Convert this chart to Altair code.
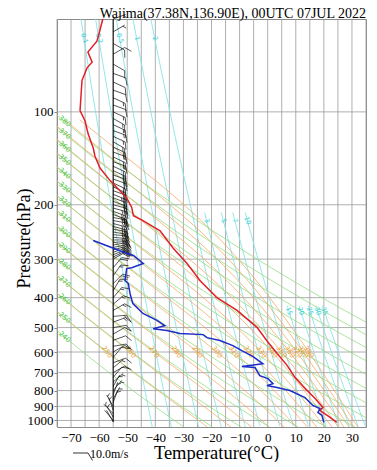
import numpy as np
import pandas as pd
import altair as alt

SERIF = "Liberation Serif"
TITLE = "Wajima(37.38N,136.90E), 00UTC 07JUL 2022"

# ---------------- values ----------------
# temperature profile (hPa, degC)
temp_p = [1015, 978, 928, 907, 847, 787, 725, 663, 606, 558, 499, 440, 400, 352, 310,
          276, 243, 225, 217, 204, 190, 180, 167, 152, 139, 131, 118, 107, 99, 79, 72,
          69, 64, 59, 56, 50]
temp_t = [24.6, 22.2, 18.6, 19.7, 16.8, 13.3, 9.7, 6.9, 3.3, 0.1, -3.8, -10.9, -18.1,
          -24.1, -28.7, -33.7, -38.3, -44.4, -47.8, -48.4, -50.2, -52.6, -56.1, -59.7,
          -61.5, -62.1, -63.9, -65.0, -66.8, -66.1, -64.3, -62.5, -64.0, -60.8, -60.1,
          -58.7]
# dew point profile
dew_p = [1015, 963, 942, 915, 894, 875, 843, 800, 782, 771, 760, 732, 716, 674, 669,
         655, 621, 594, 572, 551, 539, 527, 523, 511, 504, 493, 474, 450, 418, 388,
         360, 352, 322, 320, 310, 292, 282, 261]
dew_t = [20.0, 19.3, 17.9, 18.6, 16.1, 15.0, 13.3, 7.9, 3.3, -0.3, 1.9, 0.1, -2.8,
         -4.5, -9.2, -1.7, -5.2, -9.2, -12.4, -17.0, -21.6, -23.0, -31.2, -35.9, -40.8,
         -36.6, -39.4, -44.4, -48.0, -49.0, -49.6, -50.8, -50.2, -48.4, -44.3, -47.8,
         -52.6, -62.1]
# wind barbs: level (hPa), direction the staff points (deg), speed (m/s)
barb_p = [1010, 1000, 975, 950, 925, 900, 875, 850, 825, 800, 775, 750, 725, 700, 675,
          650, 625, 600, 575, 550, 525, 500, 480, 460, 440, 420, 400, 380, 360, 340,
          320, 300,
          295, 290, 285, 280, 275, 270, 265, 260, 255, 250, 245, 240, 235, 230, 225,
          220, 215, 210, 205, 200, 195, 190, 185, 180, 175, 170, 165, 160, 155, 150,
          145, 140, 135, 130, 125, 120, 115, 110, 105, 100,
          95, 90, 85, 80, 75, 70, 65, 60, 55, 50]
barb_dir = [330, 320, 330, 315, 340, 330, 20, 30, 20, 40, 30, 50, 40, 60, 50, 70, 40,
            60, 80, 70, 60, 80, 70, 85, 60, 50, 40, 30, 45, 35, 40, 60,
            65, 70, 72, 75, 78, 80, 85, 90, 95, 95, 100, 100, 105, 105, 100, 100, 110,
            110, 105, 105, 110, 110, 112, 110, 115, 115, 110, 110, 115, 115,
            110, 115, 110, 115, 120, 115, 110, 115, 120, 115,
            110, 115, 110, 115, 110, 120, 60, 120, 60, 70]
barb_spd = [3, 3, 5, 5, 7, 5, 5, 7, 8, 6, 8, 8, 10, 10, 8, 10, 12, 10, 12, 10, 12, 14,
            15, 15, 16, 18, 16, 18, 20, 18, 20, 22,
            22, 25, 25, 25, 25, 25, 28, 28, 28, 25, 25, 25, 28, 28, 25, 25, 25, 25, 25,
            22, 22, 22, 25, 22, 22, 20, 20, 20, 20, 20,
            18, 20, 18, 20, 18, 15, 18, 15, 15, 15,
            12, 15, 12, 12, 10, 10, 10, 10, 8, 8]
# guide lines
theta_dry = [240, 250, 260, 270, 280, 290, 300, 310, 320, 330, 340, 350, 360, 370, 380]
theta_moist = [250, 260, 270, 280, 290, 300, 310, 320, 330, 340, 350, 360, 370, 380, 390]
mix_top = [0.1, 0.2, 0.5, 1, 2]
mix_mid = [3, 5, 7, 10]
mix_low = [15, 20, 25, 30, 35]
x_ticks = [-70, -60, -50, -40, -30, -20, -10, 0, 10, 20, 30]
isotherms = list(range(-75, 36, 5))
isobars = [100, 200, 300, 400, 500, 600, 700, 800, 900, 1000]

# ---------------- thermodynamics for guide lines ----------------
def es(tc):
    return 6.112 * np.exp(17.67 * tc / (tc + 243.5))

def rsat(tk, p):
    e = es(tk - 273.15)
    return 0.622 * e / (p - e)

def theta_e(tk, p):
    r = rsat(tk, p) * 1000.0
    return tk * (1000.0 / p) ** (0.2854 * (1 - 0.00028 * r)) * np.exp(
        (3.376 / tk - 0.00254) * r * (1 + 0.00081 * r))

def dtdp(tk, p):
    rd, cp, lv = 287.04, 1005.7, 2.501e6
    r = rsat(tk, p)
    return (rd * tk + lv * r) / (p * (cp + lv * lv * r * 0.622 / (rd * tk * tk)))

rows = []
moist_lab = []
for th in theta_moist:
    lo, hi = 180.0, 335.0
    for _ in range(60):
        mid = 0.5 * (lo + hi)
        if theta_e(mid, 1050.0) > th:
            hi = mid
        else:
            lo = mid
    tk, p = mid, 1050.0
    k = 0
    rows.append({"line": th, "i": k, "p": p, "t": tk - 273.15})
    while p > 100.0:
        dp = -2.0
        k1 = dtdp(tk, p)
        k2 = dtdp(tk + dp * k1, p + dp)
        tk += dp * 0.5 * (k1 + k2)
        p += dp
        k += 1
        if k % 4 == 0:
            rows.append({"line": th, "i": k, "p": p, "t": tk - 273.15})
        if abs(p - 600.0) < 1e-6:
            moist_lab.append({"lab": str(th), "p": 600.0, "t": tk - 273.15})
moist_df = pd.DataFrame(rows)
moist_lab_df = pd.DataFrame(moist_lab)

plev = np.arange(50, 1051, 10.0)
dry_df = pd.DataFrame([{"line": th, "i": j, "p": pp, "t": th * (pp / 1000.0) ** 0.2857 - 273.15}
                       for th in theta_dry for j, pp in enumerate(plev)])
dry_lab_df = pd.DataFrame([{"lab": str(th), "t": -72.3,
                            "p": 1000.0 * ((273.15 - 72.3) / th) ** (1 / 0.2857)} for th in theta_dry])

def td_from_w(w, p):
    e = w * p / (622.0 + w)
    a = np.log(e / 6.112)
    return 243.5 * a / (17.67 - a)

mix_rows, mix_lab = [], []
for group, p0, plab in ((mix_top, 50.0, 57.0), (mix_mid, 212.0, 222.0), (mix_low, 425.0, 436.0)):
    for w in group:
        for j, pp in enumerate(np.arange(p0, 1051, 10.0)):
            mix_rows.append({"line": w, "i": j, "p": pp, "t": td_from_w(w, pp)})
        mix_lab.append({"lab": f"{w:g}", "p": plab, "t": td_from_w(w, plab)})
mix_df = pd.DataFrame(mix_rows)
mix_lab_df = pd.DataFrame(mix_lab)

def barb_path(spd):
    parts = ["M0,0L0,-1"]
    n50 = int(spd // 50)
    rem = spd - 50 * n50
    n10 = int(rem // 10)
    rem -= 10 * n10
    n5 = 1 if rem >= 5 else 0
    pos = -1.0
    for _ in range(n50):
        parts.append(f"M0,{pos:.2f}L0.5,{pos - 0.3:.2f}L0,{pos + 0.2:.2f}")
        pos += 0.28
    for _ in range(n10):
        parts.append(f"M0,{pos:.2f}L0.5,{pos - 0.3:.2f}")
        pos += 0.16
    if n5:
        if n10 == 0 and n50 == 0:
            pos += 0.16
        parts.append(f"M0,{pos:.2f}L0.25,{pos - 0.15:.2f}")
    return "".join(parts)

barb_df = pd.DataFrame({"p": barb_p, "dir": barb_dir, "spd": barb_spd,
                        "t": [-55.0] * len(barb_p)})
barb_df["path"] = [barb_path(s) for s in barb_spd]

temp_df = pd.DataFrame({"p": temp_p, "t": temp_t, "i": range(len(temp_p))})
dew_df = pd.DataFrame({"p": dew_p, "t": dew_t, "i": range(len(dew_p))})

# ---------------- chart ----------------
XS = alt.Scale(domain=[-75, 35], nice=False, zero=False)
YS = alt.Scale(type="log", domain=[50, 1050], reverse=True, nice=False)
X_AX = alt.Axis(values=x_ticks, title="Temperature(°C)", grid=False, ticks=False,
                domain=False, labelFont=SERIF, labelFontSize=13, labelColor="black",
                labelPadding=4, titleFont=SERIF, titleFontSize=18.5, titleFontWeight="normal",
                titleColor="black", titleX=159, titleY=31, titleAlign="center",
                titleBaseline="alphabetic")
Y_AX = alt.Axis(values=isobars, format="d", title="Pressure(hPa)", grid=False,
                domain=False, tickSize=3, tickColor="#888", labelFont=SERIF,
                labelFontSize=13, labelColor="black", labelPadding=1,
                titleFont=SERIF, titleFontSize=18, titleFontWeight="normal",
                titleColor="black", titleX=-33, titleY=219, titleAlign="center",
                titleBaseline="middle")

def X(f="t"):
    return alt.X(f"{f}:Q", scale=XS, axis=X_AX)

def Y(f="p"):
    return alt.Y(f"{f}:Q", scale=YS, axis=Y_AX)

iso_t = alt.Chart(pd.DataFrame({"t": isotherms})).mark_rule(
    color="#9a9a9a", strokeWidth=0.8).encode(x=X())
iso_p = alt.Chart(pd.DataFrame({"p": isobars})).mark_rule(
    color="#9a9a9a", strokeWidth=0.8).encode(y=Y())

mix_lines = alt.Chart(mix_df).mark_line(color="#84e4e8", strokeWidth=0.9, clip=True).encode(
    x=X(), y=Y(), detail="line:N", order="i:Q")
moist_lines = alt.Chart(moist_df).mark_line(color="#f2a65e", strokeWidth=0.9, opacity=0.85,
                                            clip=True).encode(
    x=X(), y=Y(), detail="line:N", order="i:Q")
dry_lines = alt.Chart(dry_df).mark_line(color="#8fdc7c", strokeWidth=0.9, opacity=0.85,
                                        clip=True).encode(
    x=X(), y=Y(), detail="line:N", order="i:Q")

dry_labels = alt.Chart(dry_lab_df).mark_text(color="#3cc83c", fontSize=7, angle=40,
                                             font="DejaVu Sans").encode(
    x=X(), y=Y(), text="lab:N")
moist_labels = alt.Chart(moist_lab_df).mark_text(color="#e8a030", fontSize=7, angle=55,
                                                 font="DejaVu Sans").encode(
    x=X(), y=Y(), text="lab:N")
mix_labels = alt.Chart(mix_lab_df).mark_text(color="#38d0d8", fontSize=6.5, angle=70, dx=2,
                                             font="DejaVu Sans").encode(
    x=X(), y=Y(), text="lab:N")

barb_axis = alt.Chart(pd.DataFrame({"t": [-55.0], "p": [1012.0], "p2": [50.0]})).mark_rule(
    color="black", strokeWidth=1).encode(x=X(), y=Y(), y2="p2:Q")
barbs = alt.Chart(barb_df).mark_point(filled=False, color="black", strokeWidth=0.6,
                                      opacity=1, size=700).encode(
    x=X(), y=Y(), shape=alt.Shape("path:N", scale=None),
    angle=alt.Angle("dir:Q", scale=None))

red = alt.Chart(temp_df).mark_line(color="#e0202a", strokeWidth=1.5, clip=True).encode(
    x=X(), y=Y(), order="i:Q")
blue = alt.Chart(dew_df).mark_line(color="#1a2ccc", strokeWidth=1.5, clip=True).encode(
    x=X(), y=Y(), order="i:Q")

title_txt = alt.Chart(pd.DataFrame({"s": [TITLE]})).mark_text(
    align="right", baseline="alphabetic", font=SERIF, fontSize=14, color="black").encode(
    x=alt.value(309), y=alt.value(-1.5), text="s:N")
legend_barb = alt.Chart(pd.DataFrame({"path": [barb_path(10)], "dir": [90]})).mark_point(
    filled=False, color="black", strokeWidth=0.8, opacity=1, size=900).encode(
    x=alt.value(16), y=alt.value(434), shape=alt.Shape("path:N", scale=None),
    angle=alt.Angle("dir:Q", scale=None))
legend_txt = alt.Chart(pd.DataFrame({"s": ["10.0m/s"]})).mark_text(
    align="left", baseline="alphabetic", font=SERIF, fontSize=12, color="black").encode(
    x=alt.value(33), y=alt.value(439), text="s:N")

chart = alt.layer(
    iso_t, iso_p, mix_lines, moist_lines, dry_lines, dry_labels, moist_labels, mix_labels,
    barb_axis, barbs, red, blue, title_txt, legend_barb, legend_txt
).properties(
    width=309, height=408,
    autosize=alt.AutoSizeParams(type="none"),
    padding={"left": 49, "top": 11, "right": 3, "bottom": 35},
).configure_view(stroke="#8a8a8a", strokeWidth=1)

chart.save("out.html", embed_options={"renderer": "svg", "actions": False})
